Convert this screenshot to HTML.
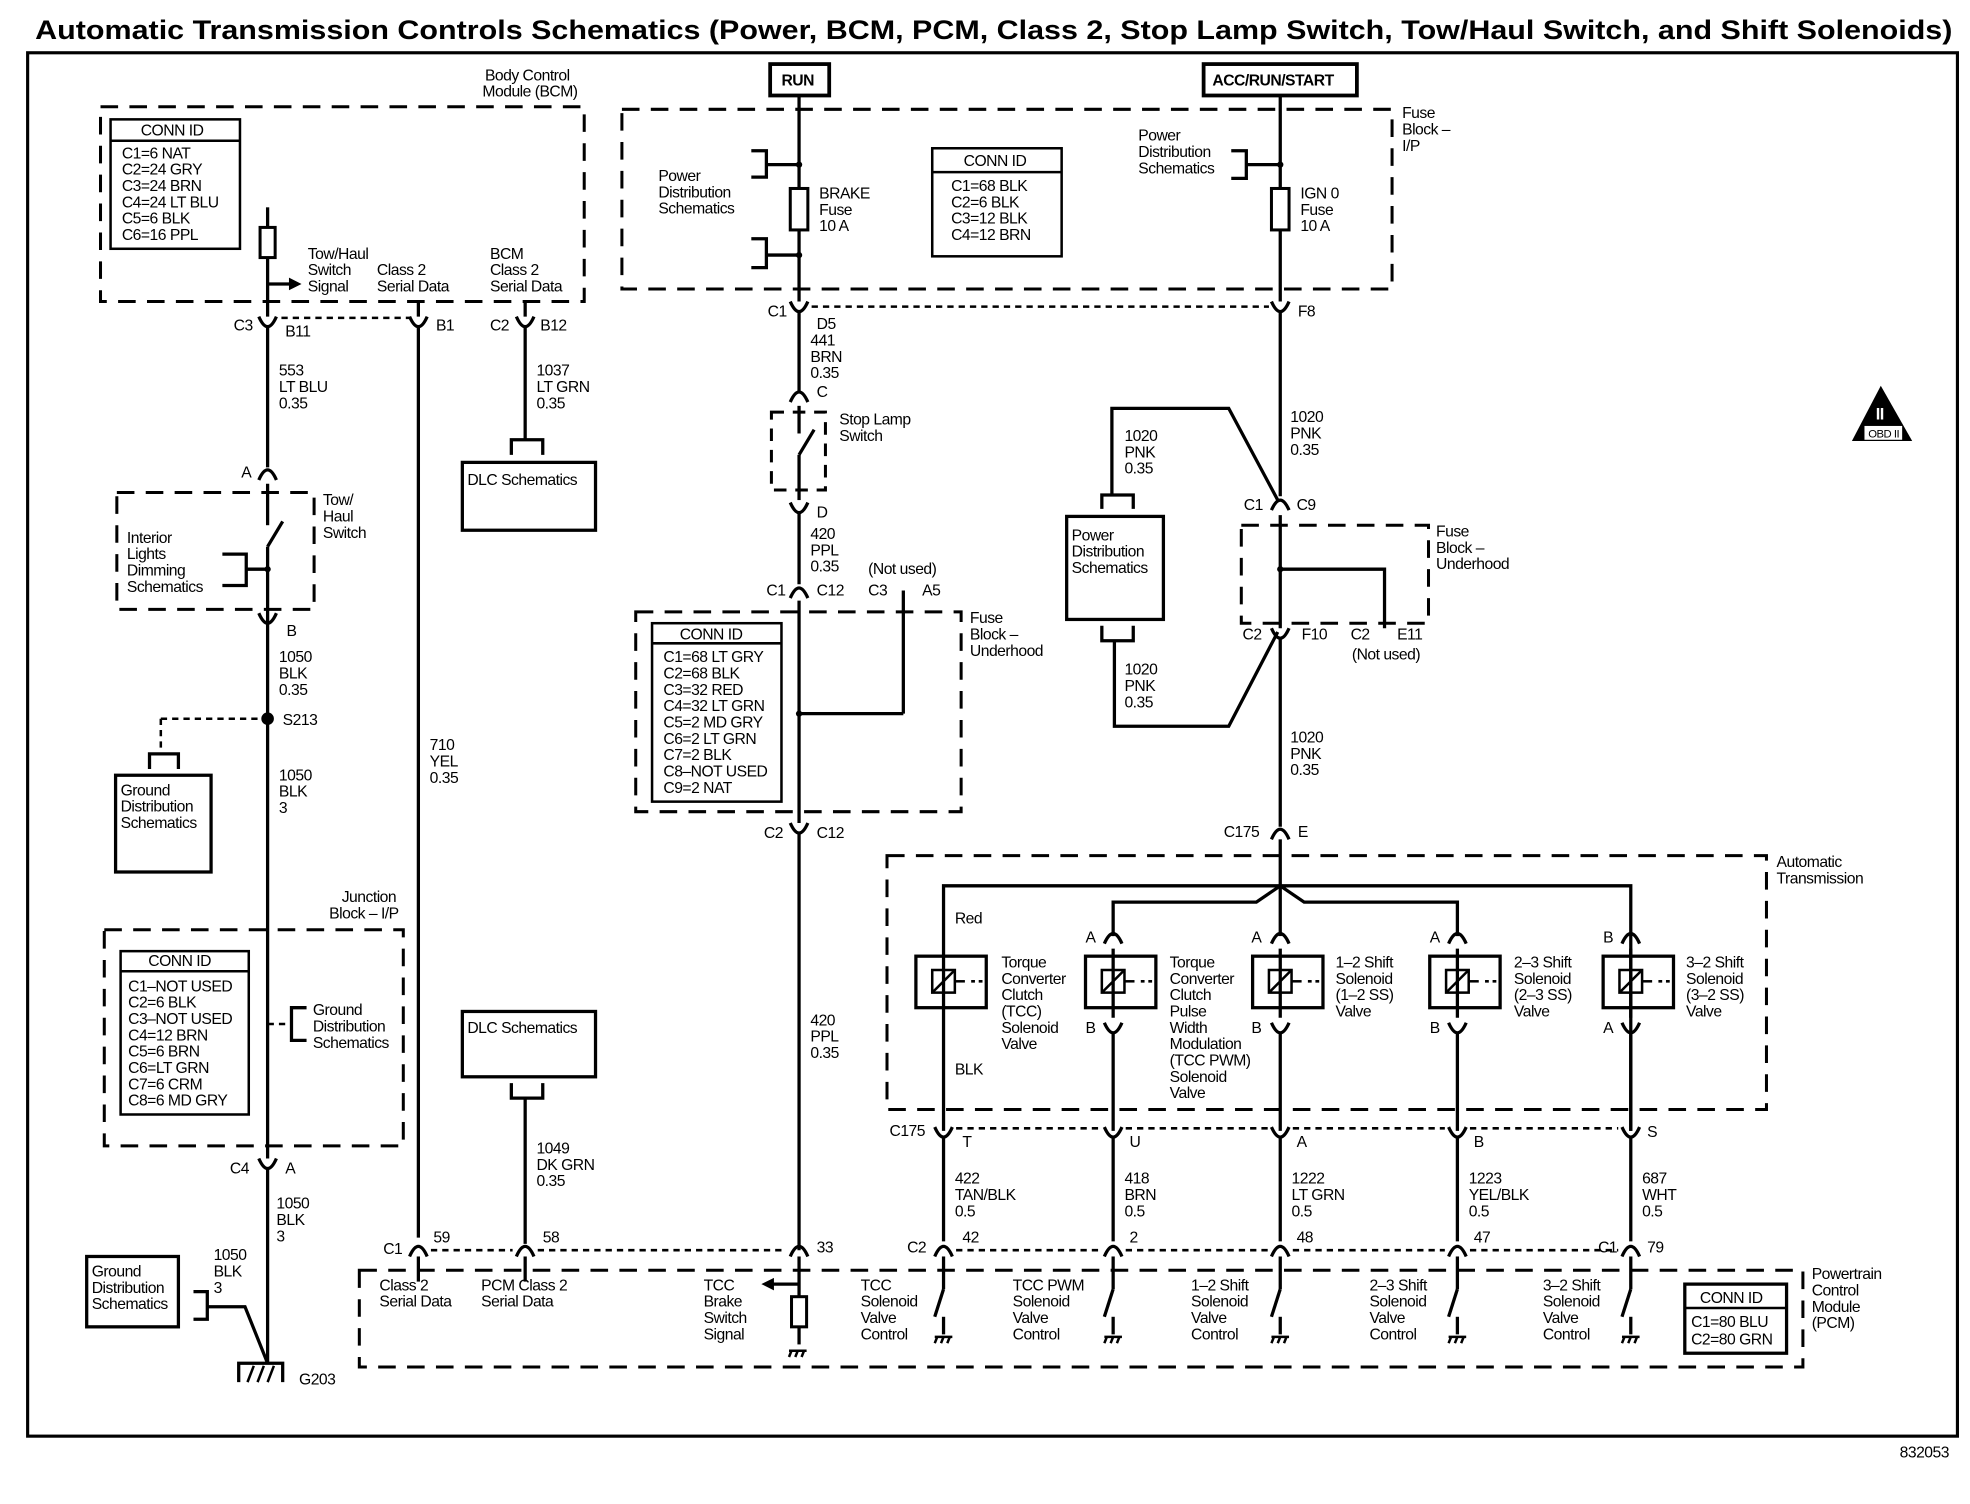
<!DOCTYPE html>
<html><head><meta charset="utf-8">
<style>
html,body{margin:0;padding:0;background:#fff;}
svg{display:block;}
text{font-family:"Liberation Sans",Arial,sans-serif;font-size:12.5px;fill:#000;letter-spacing:-0.4px;}
.b{font-weight:bold;}
.w{stroke:#000;stroke-width:2.6;fill:none;}
.t{stroke:#000;stroke-width:2;fill:none;}
.d{stroke:#000;stroke-width:2.4;fill:none;stroke-dasharray:14,9;}
.s{stroke:#000;stroke-width:2;fill:none;stroke-dasharray:5,4;}
.bx{stroke:#000;stroke-width:2.6;fill:#fff;}
</style></head><body>
<svg width="1970" height="1504" viewBox="0 0 1568 1197" preserveAspectRatio="none" xmlns="http://www.w3.org/2000/svg">
<rect x="0" y="0" width="1568" height="1197" fill="#fff"/>
<text x="28" y="31" class="b" style="font-size:21px;letter-spacing:0" textLength="1526" lengthAdjust="spacingAndGlyphs">Automatic Transmission Controls Schematics (Power, BCM, PCM, Class 2, Stop Lamp Switch, Tow/Haul Switch, and Shift Solenoids)</text>
<rect x="22" y="42" width="1536" height="1101" class="t" style="stroke-width:2.5"/>
<text x="1512" y="1160">832053</text>

<!-- ===== BCM ===== -->
<rect x="80" y="85" width="385" height="155" class="d"/>
<text x="386" y="64">Body Control</text><text x="384" y="77">Module (BCM)</text>
<rect x="88" y="95" width="103" height="103" class="t"/>
<line x1="88" y1="112" x2="191" y2="112" class="t"/>
<text x="112" y="108">CONN ID</text>
<text x="97" y="126">C1=6 NAT</text><text x="97" y="139">C2=24 GRY</text><text x="97" y="152">C3=24 BRN</text>
<text x="97" y="165">C4=24 LT BLU</text><text x="97" y="178">C5=6 BLK</text><text x="97" y="191">C6=16 PPL</text>
<line x1="213" y1="165" x2="213" y2="180" class="w"/>
<rect x="207" y="181" width="12" height="24" class="t" style="stroke-width:2.4"/>
<line x1="213" y1="205" x2="213" y2="252" class="w"/>
<line x1="213" y1="226" x2="232" y2="226" class="w"/><polygon points="230,221 240,226 230,231"/>
<text x="245" y="206">Tow/Haul</text><text x="245" y="219">Switch</text><text x="245" y="232">Signal</text>
<text x="300" y="219">Class 2</text><text x="300" y="232">Serial Data</text>
<text x="390" y="206">BCM</text><text x="390" y="219">Class 2</text><text x="390" y="232">Serial Data</text>
<!-- connectors -->
<path d="M206 252 Q213 268 220 252" class="w"/>
<text x="186" y="263">C3</text><text x="227" y="268">B11</text>
<line x1="224" y1="253" x2="327" y2="253" class="s"/>
<line x1="333" y1="240" x2="333" y2="252" class="w"/>
<path d="M326 252 Q333 268 340 252" class="w"/><text x="347" y="263">B1</text>
<line x1="418" y1="240" x2="418" y2="252" class="w"/>
<path d="M411 252 Q418 268 425 252" class="w"/><text x="390" y="263">C2</text><text x="430" y="263">B12</text>
<line x1="213" y1="260" x2="213" y2="372" class="w"/>
<text x="222" y="299">553</text><text x="222" y="312">LT BLU</text><text x="222" y="325">0.35</text>
<line x1="418" y1="260" x2="418" y2="350" class="w"/>
<text x="427" y="299">1037</text><text x="427" y="312">LT GRN</text><text x="427" y="325">0.35</text>
<path d="M407 362 V350 H432 V362" class="w"/>
<rect x="368" y="368" width="106" height="54" class="t" style="stroke-width:2.6"/>
<text x="372" y="386">DLC Schematics</text>
<line x1="333" y1="260" x2="333" y2="985" class="w"/>
<text x="342" y="597">710</text><text x="342" y="610">YEL</text><text x="342" y="623">0.35</text>

<!-- tow haul switch -->
<path d="M206 382 Q213 366 220 382" class="w"/><text x="192" y="380">A</text>
<rect x="93" y="392" width="157" height="93" class="d"/>
<line x1="213" y1="385" x2="213" y2="418" class="w"/>
<line x1="213" y1="435" x2="225" y2="415" class="w"/>
<line x1="213" y1="435" x2="213" y2="495" class="w"/>
<circle cx="213" cy="453" r="2.5"/>
<line x1="196" y1="453" x2="213" y2="453" class="w"/>
<path d="M177 441 H196 V466 H177" class="w"/>
<text x="101" y="432">Interior</text><text x="101" y="445">Lights</text><text x="101" y="458">Dimming</text><text x="101" y="471">Schematics</text>
<text x="257" y="402">Tow/</text><text x="257" y="415">Haul</text><text x="257" y="428">Switch</text>
<path d="M206 488 Q213 504 220 488" class="w"/><text x="228" y="506">B</text>
<line x1="213" y1="496" x2="213" y2="922" class="w"/>
<text x="222" y="527">1050</text><text x="222" y="540">BLK</text><text x="222" y="553">0.35</text>
<circle cx="213" cy="572" r="5"/>
<text x="225" y="577">S213</text>
<line x1="128" y1="572" x2="208" y2="572" class="s"/>
<line x1="128" y1="572" x2="128" y2="600" class="s"/>
<path d="M119 612 V600 H142 V612" class="w"/>
<rect x="92" y="617" width="76" height="77" class="t" style="stroke-width:2.6"/>
<text x="96" y="633">Ground</text><text x="96" y="646">Distribution</text><text x="96" y="659">Schematics</text>
<text x="222" y="621">1050</text><text x="222" y="634">BLK</text><text x="222" y="647">3</text>

<!-- junction block -->
<text x="272" y="718">Junction</text><text x="262" y="731">Block – I/P</text>
<rect x="83" y="740" width="238" height="172" class="d"/>
<rect x="96" y="757" width="102" height="130" class="t"/>
<line x1="96" y1="773" x2="198" y2="773" class="t"/>
<text x="118" y="769">CONN ID</text>
<text x="102" y="789">C1–NOT USED</text><text x="102" y="802">C2=6 BLK</text><text x="102" y="815">C3–NOT USED</text>
<text x="102" y="828">C4=12 BRN</text><text x="102" y="841">C5=6 BRN</text><text x="102" y="854">C6=LT GRN</text>
<text x="102" y="867">C7=6 CRM</text><text x="102" y="880">C8=6 MD GRY</text>
<line x1="213" y1="815" x2="232" y2="815" class="s"/>
<path d="M244 802 H232 V828 H244" class="w"/>
<text x="249" y="808">Ground</text><text x="249" y="821">Distribution</text><text x="249" y="834">Schematics</text>
<path d="M206 922 Q213 938 220 922" class="w"/><text x="183" y="934">C4</text><text x="227" y="934">A</text>
<line x1="213" y1="930" x2="213" y2="1085" class="w"/>
<text x="220" y="962">1050</text><text x="220" y="975">BLK</text><text x="220" y="988">3</text>
<text x="170" y="1003">1050</text><text x="170" y="1016">BLK</text><text x="170" y="1029">3</text>
<rect x="69" y="1000" width="73" height="56" class="t" style="stroke-width:2.6"/>
<text x="73" y="1016">Ground</text><text x="73" y="1029">Distribution</text><text x="73" y="1042">Schematics</text>
<path d="M154 1028 H165 V1050 H154" class="w"/>
<path d="M165 1040 H195 L213 1085" class="w"/>
<path d="M190 1100 V1085 H225 V1100" class="w"/>
<line x1="197" y1="1100" x2="202" y2="1087" class="t"/><line x1="205" y1="1100" x2="210" y2="1087" class="t"/><line x1="213" y1="1100" x2="218" y2="1087" class="t"/>
<text x="238" y="1102">G203</text>

<!-- DLC schematics 2 -->
<rect x="368" y="805" width="106" height="52" class="t" style="stroke-width:2.6"/>
<text x="372" y="822">DLC Schematics</text>
<path d="M407 862 V874 H432 V862" class="w"/>
<line x1="418" y1="874" x2="418" y2="990" class="w"/>
<text x="427" y="918">1049</text><text x="427" y="931">DK GRN</text><text x="427" y="944">0.35</text>

<!-- ===== RUN / I/P fuse block ===== -->
<rect x="613" y="51" width="47" height="25" class="bx" style="stroke-width:3"/>
<text x="622" y="68" class="b">RUN</text>
<rect x="958" y="51" width="122" height="25" class="bx" style="stroke-width:3"/>
<text x="965" y="68" class="b">ACC/RUN/START</text>
<rect x="495" y="87" width="613" height="143" class="d"/>
<text x="1116" y="94">Fuse</text><text x="1116" y="107">Block –</text><text x="1116" y="120">I/P</text>
<line x1="636" y1="76" x2="636" y2="150" class="w"/>
<rect x="629" y="150" width="14" height="33" class="t" style="stroke-width:2.4"/>
<line x1="636" y1="183" x2="636" y2="240" class="w"/>
<path d="M598 120 H610 V141 H598" class="w"/><line x1="610" y1="131" x2="636" y2="131" class="w"/><circle cx="636" cy="131" r="2.5"/>
<path d="M598 190 H610 V213 H598" class="w"/><line x1="610" y1="203" x2="636" y2="203" class="w"/><circle cx="636" cy="203" r="2.5"/>
<text x="524" y="144">Power</text><text x="524" y="157">Distribution</text><text x="524" y="170">Schematics</text>
<text x="652" y="158">BRAKE</text><text x="652" y="171">Fuse</text><text x="652" y="184">10 A</text>
<rect x="742" y="118" width="103" height="86" class="t"/>
<line x1="742" y1="137" x2="845" y2="137" class="t"/>
<text x="767" y="132">CONN ID</text>
<text x="757" y="152">C1=68 BLK</text><text x="757" y="165">C2=6 BLK</text><text x="757" y="178">C3=12 BLK</text><text x="757" y="191">C4=12 BRN</text>
<line x1="1019" y1="76" x2="1019" y2="150" class="w"/>
<rect x="1012" y="150" width="14" height="33" class="t" style="stroke-width:2.4"/>
<line x1="1019" y1="183" x2="1019" y2="240" class="w"/>
<path d="M980 120 H992 V142 H980" class="w"/><line x1="992" y1="131" x2="1019" y2="131" class="w"/><circle cx="1019" cy="131" r="2.5"/>
<text x="906" y="112">Power</text><text x="906" y="125">Distribution</text><text x="906" y="138">Schematics</text>
<text x="1035" y="158">IGN 0</text><text x="1035" y="171">Fuse</text><text x="1035" y="184">10 A</text>
<path d="M629 240 Q636 256 643 240" class="w"/><text x="611" y="252">C1</text><text x="650" y="262">D5</text>
<line x1="646" y1="244" x2="1010" y2="244" class="s"/>
<path d="M1012 240 Q1019 256 1026 240" class="w"/><text x="1033" y="252">F8</text>
<line x1="636" y1="248" x2="636" y2="312" class="w"/>
<text x="645" y="275">441</text><text x="645" y="288">BRN</text><text x="645" y="301">0.35</text>
<path d="M629 320 Q636 304 643 320" class="w"/><text x="650" y="316">C</text>
<rect x="614" y="328" width="43" height="62" class="d" style="stroke-dasharray:10,7"/>
<line x1="636" y1="323" x2="636" y2="345" class="w"/>
<line x1="636" y1="362" x2="648" y2="342" class="w"/>
<line x1="636" y1="362" x2="636" y2="398" class="w"/>
<text x="668" y="338">Stop Lamp</text><text x="668" y="351">Switch</text>
<path d="M629 400 Q636 416 643 400" class="w"/><text x="650" y="412">D</text>
<line x1="636" y1="408" x2="636" y2="465" class="w"/>
<text x="645" y="429">420</text><text x="645" y="442">PPL</text><text x="645" y="455">0.35</text>
<path d="M629 476 Q636 460 643 476" class="w"/><text x="610" y="474">C1</text><text x="650" y="474">C12</text>
<text x="691" y="457">(Not used)</text><text x="691" y="474">C3</text><text x="734" y="474">A5</text>
<line x1="719" y1="470" x2="719" y2="568" class="w"/>
<rect x="506" y="487" width="259" height="159" class="d"/>
<text x="772" y="496">Fuse</text><text x="772" y="509">Block –</text><text x="772" y="522">Underhood</text>
<rect x="519" y="496" width="103" height="142" class="t"/>
<line x1="519" y1="512" x2="622" y2="512" class="t"/>
<text x="541" y="509">CONN ID</text>
<text x="528" y="527">C1=68 LT GRY</text><text x="528" y="540">C2=68 BLK</text><text x="528" y="553">C3=32 RED</text>
<text x="528" y="566">C4=32 LT GRN</text><text x="528" y="579">C5=2 MD GRY</text><text x="528" y="592">C6=2 LT GRN</text>
<text x="528" y="605">C7=2 BLK</text><text x="528" y="618">C8–NOT USED</text><text x="528" y="631">C9=2 NAT</text>
<line x1="636" y1="478" x2="636" y2="655" class="w"/>
<circle cx="636" cy="568" r="2.5"/><line x1="636" y1="568" x2="719" y2="568" class="w"/>
<path d="M629 655 Q636 671 643 655" class="w"/><text x="608" y="667">C2</text><text x="650" y="667">C12</text>
<line x1="636" y1="663" x2="636" y2="995" class="w"/>
<text x="645" y="816">420</text><text x="645" y="829">PPL</text><text x="645" y="842">0.35</text>

<!-- ===== ACC side ===== -->
<line x1="1019" y1="248" x2="1019" y2="395" class="w"/>
<text x="1027" y="336">1020</text><text x="1027" y="349">PNK</text><text x="1027" y="362">0.35</text>
<path d="M885 393 V325 H978 L1017 398" class="w"/>
<text x="895" y="351">1020</text><text x="895" y="364">PNK</text><text x="895" y="377">0.35</text>
<path d="M877 405 V394 H902 V405" class="w"/>
<rect x="849" y="411" width="77" height="82" class="t" style="stroke-width:2.6"/>
<text x="853" y="430">Power</text><text x="853" y="443">Distribution</text><text x="853" y="456">Schematics</text>
<path d="M877 498 V510 H902 V498" class="w"/>
<path d="M887 510 V578 H978 L1017 503" class="w"/>
<text x="895" y="537">1020</text><text x="895" y="550">PNK</text><text x="895" y="563">0.35</text>
<path d="M1012 406 Q1019 390 1026 406" class="w"/><text x="990" y="406">C1</text><text x="1032" y="406">C9</text>
<rect x="988" y="418" width="149" height="78" class="d"/>
<text x="1143" y="427">Fuse</text><text x="1143" y="440">Block –</text><text x="1143" y="453">Underhood</text>
<line x1="1019" y1="410" x2="1019" y2="500" class="w"/>
<circle cx="1019" cy="453" r="2.5"/><path d="M1019 453 H1102 V500" class="w"/>
<path d="M1012 500 Q1019 516 1026 500" class="w"/><text x="989" y="509">C2</text><text x="1036" y="509">F10</text>
<text x="1075" y="509">C2</text><text x="1112" y="509">E11</text><text x="1076" y="525">(Not used)</text>
<line x1="1019" y1="508" x2="1019" y2="658" class="w"/>
<text x="1027" y="591">1020</text><text x="1027" y="604">PNK</text><text x="1027" y="617">0.35</text>
<path d="M1012 668 Q1019 652 1026 668" class="w"/><text x="974" y="666">C175</text><text x="1033" y="666">E</text>
<line x1="1019" y1="668" x2="1019" y2="705" class="w"/>

<!-- OBD II -->
<polygon points="1497,307 1474,351 1522,351" fill="#000"/>
<rect x="1484" y="339" width="30" height="11" fill="#fff"/>
<text x="1487" y="348" style="font-size:9px">OBD II</text>
<text x="1493" y="334" style="font-size:13px;fill:#fff" class="b">II</text>

<!-- ===== Automatic transmission ===== -->
<rect x="706" y="681" width="700" height="202" class="d"/>
<text x="1414" y="690">Automatic</text><text x="1414" y="703">Transmission</text>
<path d="M751 900 V705 H1298 V900" class="w"/>
<path d="M886 745 V718 H1000 L1019 705 L1038 718 H1160 V745" class="w"/>
<line x1="1019" y1="705" x2="1019" y2="745" class="w"/>
<text x="760" y="735">Red</text><text x="760" y="855">BLK</text>
<!-- solenoids: x centers 751,886,1019,1160,1298 -->
<g>
<rect x="729" y="761" width="56" height="41" class="t" style="stroke-width:2.6"/>
<rect x="742" y="772" width="18" height="18" class="t"/><line x1="742" y1="790" x2="760" y2="772" class="t"/>
<line x1="760" y1="781" x2="768" y2="781" class="t"/><line x1="773" y1="781" x2="785" y2="781" class="t" style="stroke-dasharray:3,3"/>
</g>
<g transform="translate(135,0)">
<rect x="729" y="761" width="56" height="41" class="t" style="stroke-width:2.6"/>
<rect x="742" y="772" width="18" height="18" class="t"/><line x1="742" y1="790" x2="760" y2="772" class="t"/>
<line x1="760" y1="781" x2="768" y2="781" class="t"/><line x1="773" y1="781" x2="785" y2="781" class="t" style="stroke-dasharray:3,3"/>
</g>
<g transform="translate(268,0)">
<rect x="729" y="761" width="56" height="41" class="t" style="stroke-width:2.6"/>
<rect x="742" y="772" width="18" height="18" class="t"/><line x1="742" y1="790" x2="760" y2="772" class="t"/>
<line x1="760" y1="781" x2="768" y2="781" class="t"/><line x1="773" y1="781" x2="785" y2="781" class="t" style="stroke-dasharray:3,3"/>
</g>
<g transform="translate(409,0)">
<rect x="729" y="761" width="56" height="41" class="t" style="stroke-width:2.6"/>
<rect x="742" y="772" width="18" height="18" class="t"/><line x1="742" y1="790" x2="760" y2="772" class="t"/>
<line x1="760" y1="781" x2="768" y2="781" class="t"/><line x1="773" y1="781" x2="785" y2="781" class="t" style="stroke-dasharray:3,3"/>
</g>
<g transform="translate(547,0)">
<rect x="729" y="761" width="56" height="41" class="t" style="stroke-width:2.6"/>
<rect x="742" y="772" width="18" height="18" class="t"/><line x1="742" y1="790" x2="760" y2="772" class="t"/>
<line x1="760" y1="781" x2="768" y2="781" class="t"/><line x1="773" y1="781" x2="785" y2="781" class="t" style="stroke-dasharray:3,3"/>
</g>
<!-- solenoid connectors -->
<path d="M879 751 Q886 735 893 751" class="w"/><path d="M879 814 Q886 830 893 814" class="w"/>
<line x1="886" y1="755" x2="886" y2="810" class="w"/><line x1="886" y1="822" x2="886" y2="900" class="w"/>
<text x="864" y="750">A</text><text x="864" y="822">B</text>
<path d="M1012 751 Q1019 735 1026 751" class="w"/><path d="M1012 814 Q1019 830 1026 814" class="w"/>
<line x1="1019" y1="755" x2="1019" y2="810" class="w"/><line x1="1019" y1="822" x2="1019" y2="900" class="w"/>
<text x="996" y="750">A</text><text x="996" y="822">B</text>
<path d="M1153 751 Q1160 735 1167 751" class="w"/><path d="M1153 814 Q1160 830 1167 814" class="w"/>
<line x1="1160" y1="755" x2="1160" y2="810" class="w"/><line x1="1160" y1="822" x2="1160" y2="900" class="w"/>
<text x="1138" y="750">A</text><text x="1138" y="822">B</text>
<path d="M1291 751 Q1298 735 1305 751" class="w"/><path d="M1291 814 Q1298 830 1305 814" class="w"/>
<line x1="1298" y1="755" x2="1298" y2="810" class="w"/><line x1="1298" y1="822" x2="1298" y2="900" class="w"/>
<text x="1276" y="750">B</text><text x="1276" y="822">A</text>
<text x="797" y="770">Torque</text><text x="797" y="783">Converter</text><text x="797" y="796">Clutch</text><text x="797" y="809">(TCC)</text><text x="797" y="822">Solenoid</text><text x="797" y="835">Valve</text>
<text x="931" y="770">Torque</text><text x="931" y="783">Converter</text><text x="931" y="796">Clutch</text><text x="931" y="809">Pulse</text><text x="931" y="822">Width</text><text x="931" y="835">Modulation</text><text x="931" y="848">(TCC PWM)</text><text x="931" y="861">Solenoid</text><text x="931" y="874">Valve</text>
<text x="1063" y="770">1–2 Shift</text><text x="1063" y="783">Solenoid</text><text x="1063" y="796">(1–2 SS)</text><text x="1063" y="809">Valve</text>
<text x="1205" y="770">2–3 Shift</text><text x="1205" y="783">Solenoid</text><text x="1205" y="796">(2–3 SS)</text><text x="1205" y="809">Valve</text>
<text x="1342" y="770">3–2 Shift</text><text x="1342" y="783">Solenoid</text><text x="1342" y="796">(3–2 SS)</text><text x="1342" y="809">Valve</text>
<!-- C175 bottom -->
<path d="M744 897 Q751 913 758 897" class="w"/><path d="M879 897 Q886 913 893 897" class="w"/>
<path d="M1012 897 Q1019 913 1026 897" class="w"/><path d="M1153 897 Q1160 913 1167 897" class="w"/>
<path d="M1291 897 Q1298 913 1305 897" class="w"/>
<line x1="761" y1="898" x2="876" y2="898" class="s"/><line x1="896" y1="898" x2="1009" y2="898" class="s"/>
<line x1="1029" y1="898" x2="1150" y2="898" class="s"/><line x1="1170" y1="898" x2="1288" y2="898" class="s"/>
<text x="708" y="904">C175</text><text x="766" y="913">T</text><text x="899" y="913">U</text><text x="1032" y="913">A</text><text x="1173" y="913">B</text><text x="1311" y="905">S</text>
<line x1="751" y1="905" x2="751" y2="988" class="w"/><line x1="886" y1="905" x2="886" y2="988" class="w"/>
<line x1="1019" y1="905" x2="1019" y2="988" class="w"/><line x1="1160" y1="905" x2="1160" y2="988" class="w"/>
<line x1="1298" y1="905" x2="1298" y2="988" class="w"/>
<text x="760" y="942">422</text><text x="760" y="955">TAN/BLK</text><text x="760" y="968">0.5</text>
<text x="895" y="942">418</text><text x="895" y="955">BRN</text><text x="895" y="968">0.5</text>
<text x="1028" y="942">1222</text><text x="1028" y="955">LT GRN</text><text x="1028" y="968">0.5</text>
<text x="1169" y="942">1223</text><text x="1169" y="955">YEL/BLK</text><text x="1169" y="968">0.5</text>
<text x="1307" y="942">687</text><text x="1307" y="955">WHT</text><text x="1307" y="968">0.5</text>

<!-- ===== PCM ===== -->
<rect x="286" y="1011" width="1149" height="77" class="d"/>
<text x="1442" y="1018">Powertrain</text><text x="1442" y="1031">Control</text><text x="1442" y="1044">Module</text><text x="1442" y="1057">(PCM)</text>
<path d="M326 1000 Q333 984 340 1000" class="w"/><path d="M411 1000 Q418 984 425 1000" class="w"/>
<path d="M629 1000 Q636 984 643 1000" class="w"/>
<line x1="343" y1="995" x2="408" y2="995" class="s"/><line x1="428" y1="995" x2="626" y2="995" class="s"/>
<text x="305" y="998">C1</text><text x="345" y="989">59</text><text x="432" y="989">58</text><text x="650" y="997">33</text>
<line x1="333" y1="1000" x2="333" y2="1020" class="w"/><line x1="418" y1="1000" x2="418" y2="1020" class="w"/>
<text x="302" y="1027">Class 2</text><text x="302" y="1040">Serial Data</text>
<text x="383" y="1027">PCM Class 2</text><text x="383" y="1040">Serial Data</text>
<line x1="636" y1="1000" x2="636" y2="1032" class="w"/>
<line x1="614" y1="1022" x2="636" y2="1022" class="w"/><polygon points="616,1017 606,1022 616,1027"/>
<rect x="630" y="1032" width="12" height="24" class="t" style="stroke-width:2.4"/>
<line x1="636" y1="1056" x2="636" y2="1070" class="w"/>
<path d="M628 1075 H642 M630 1075 L628 1080 M635 1075 L633 1080 M640 1075 L638 1080" class="t"/>
<text x="560" y="1027">TCC</text><text x="560" y="1040">Brake</text><text x="560" y="1053">Switch</text><text x="560" y="1066">Signal</text>
<!-- PCM right connectors -->
<path d="M744 1000 Q751 984 758 1000" class="w"/><path d="M879 1000 Q886 984 893 1000" class="w"/>
<path d="M1012 1000 Q1019 984 1026 1000" class="w"/><path d="M1153 1000 Q1160 984 1167 1000" class="w"/>
<path d="M1291 1000 Q1298 984 1305 1000" class="w"/>
<line x1="761" y1="995" x2="876" y2="995" class="s"/><line x1="896" y1="995" x2="1009" y2="995" class="s"/>
<line x1="1029" y1="995" x2="1150" y2="995" class="s"/><line x1="1170" y1="995" x2="1288" y2="995" class="s"/>
<text x="722" y="997">C2</text><text x="766" y="989">42</text><text x="899" y="989">2</text><text x="1032" y="989">48</text><text x="1173" y="989">47</text>
<text x="1272" y="997">C1</text><text x="1311" y="997">79</text>
<g id="sw">
<line x1="751" y1="1000" x2="751" y2="1026" class="w"/><line x1="751" y1="1026" x2="744" y2="1048" class="w"/>
<line x1="751" y1="1048" x2="751" y2="1062" class="w"/>
<path d="M744 1064 H758 M746 1064 L744 1069 M751 1064 L749 1069 M756 1064 L754 1069" class="t"/>
</g>
<use href="#sw" x="135"/><use href="#sw" x="268"/><use href="#sw" x="409"/><use href="#sw" x="547"/>
<text x="685" y="1027">TCC</text><text x="685" y="1040">Solenoid</text><text x="685" y="1053">Valve</text><text x="685" y="1066">Control</text>
<text x="806" y="1027">TCC PWM</text><text x="806" y="1040">Solenoid</text><text x="806" y="1053">Valve</text><text x="806" y="1066">Control</text>
<text x="948" y="1027">1–2 Shift</text><text x="948" y="1040">Solenoid</text><text x="948" y="1053">Valve</text><text x="948" y="1066">Control</text>
<text x="1090" y="1027">2–3 Shift</text><text x="1090" y="1040">Solenoid</text><text x="1090" y="1053">Valve</text><text x="1090" y="1066">Control</text>
<text x="1228" y="1027">3–2 Shift</text><text x="1228" y="1040">Solenoid</text><text x="1228" y="1053">Valve</text><text x="1228" y="1066">Control</text>
<rect x="1341" y="1022" width="81" height="55" class="t" style="stroke-width:2.6"/>
<line x1="1341" y1="1041" x2="1422" y2="1041" class="t"/>
<text x="1353" y="1037">CONN ID</text><text x="1346" y="1056">C1=80 BLU</text><text x="1346" y="1070">C2=80 GRN</text>
</svg>
</body></html>
